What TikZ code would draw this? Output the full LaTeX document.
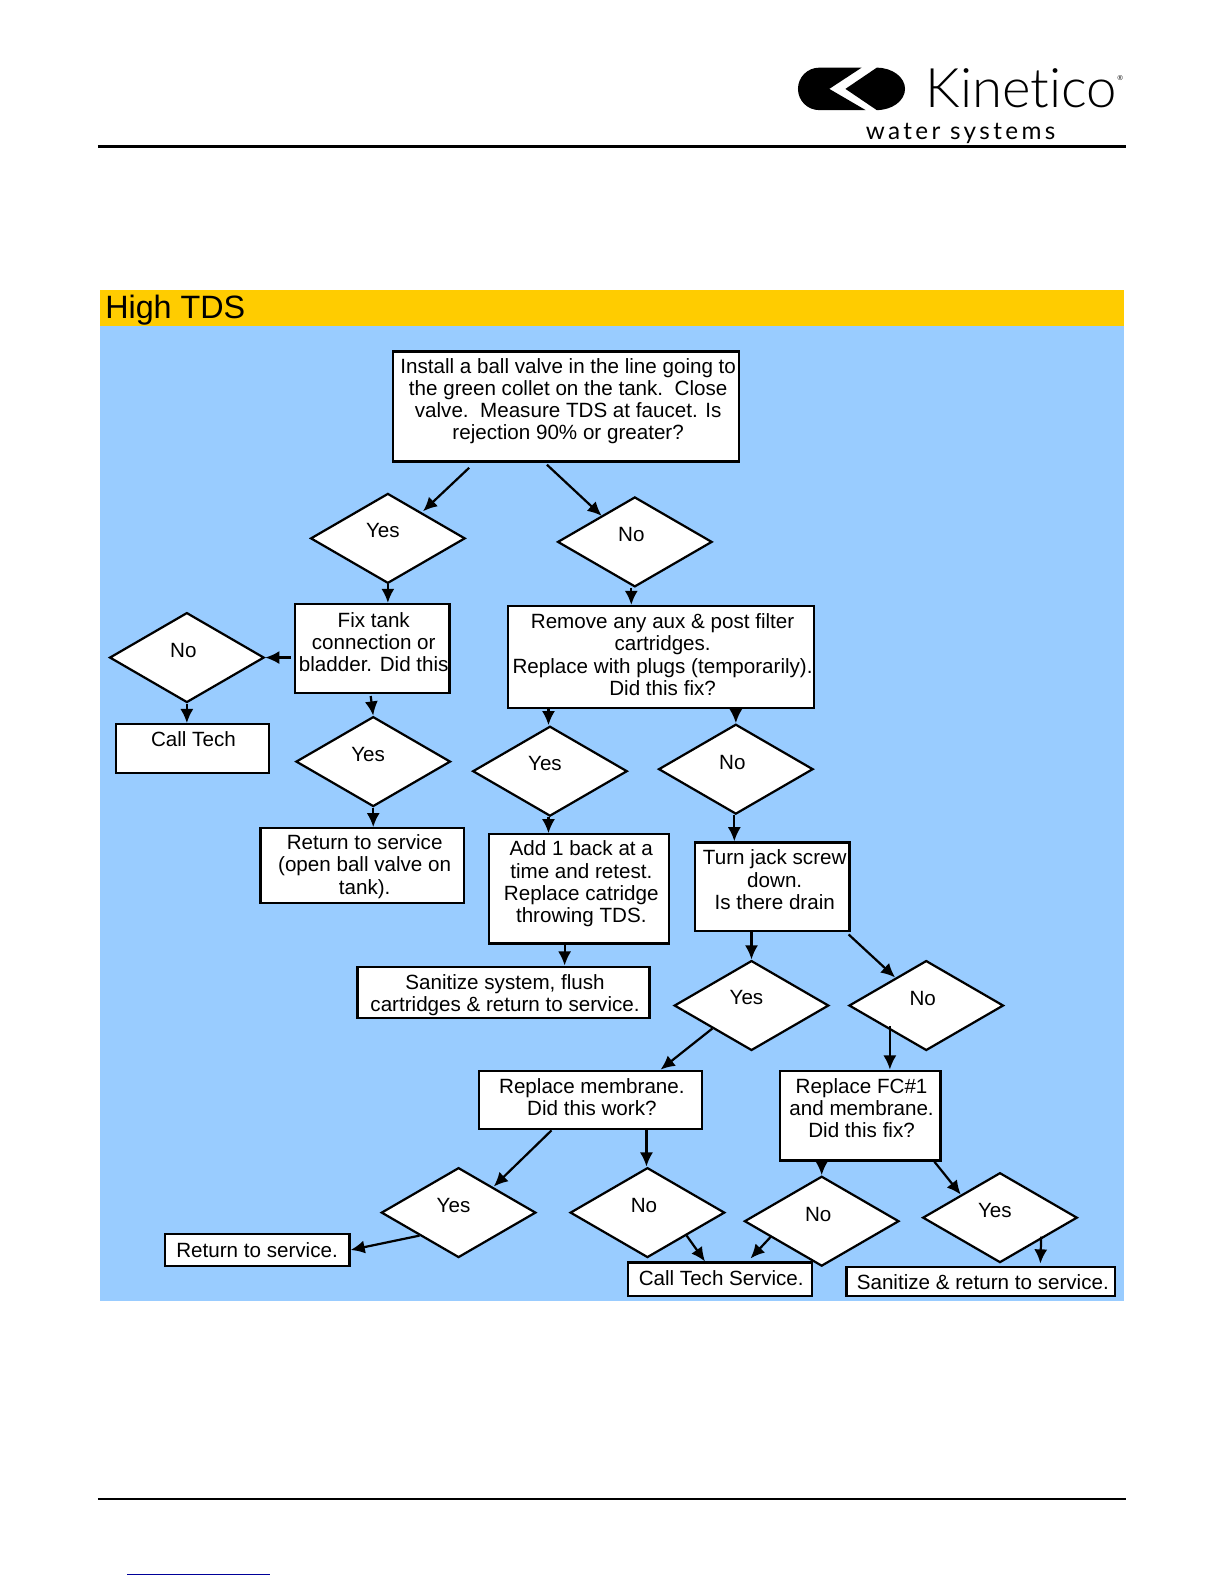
\documentclass[tikz,border=0pt]{standalone}
\usepackage{fontspec}
\setmainfont{Liberation Sans}
\newfontfamily\logofont[Ligatures=NoCommon]{Lato Light}
\newfontfamily\logospaced[LetterSpace=14]{Lato}
\usetikzlibrary{arrows.meta,shapes.geometric}
\definecolor{barcol}{HTML}{FFCC00}
\definecolor{bgcol}{HTML}{99CCFF}
\definecolor{linkcol}{HTML}{000099}
\begin{document}
\begin{tikzpicture}[
    x = 1pt, y = -1pt,
    every node/.style = {font = \fontsize{20.4}{22}\selectfont},
    txt/.style = {align = center, inner sep = 0pt},
    ytxt/.style = {txt, xshift = -5pt, yshift = 7.5pt},
    ntxt/.style = {txt, xshift = -3.5pt, yshift = 7pt},
    box/.style = {draw, fill = white, line width = 2.2pt, inner sep = 0pt},
    dia/.style = {diamond, draw, fill = white, line width = 2.2pt, inner sep = 0pt,
      minimum width = 153pt, minimum height = 89pt},
    arr/.style = {-{Latex[length = 14pt, width = 13pt]}, line width = 2.2pt},
  ]
  \useasboundingbox (0,0) rectangle (1211.9,1568.2);
  \fill[bgcol] (99,323) rectangle (1113,1288);
  \node[fill = barcol, minimum width = 1014pt, minimum height = 36pt, inner sep = 0pt] (bar) at (606,305) {};
  \node[anchor = west, inner sep = 0pt, font = \fontsize{32}{34}\selectfont] (title) at (104,307.5) {High TDS};

  % logo
  \fill (811,67) -- (853,67) -- (821,88) -- (857,109) -- (811,109) arc (90:270:21) -- cycle;
  \fill (837,88) -- (868,67) arc (270:450:28 and 21) -- cycle;
  \node[anchor = west, inner sep = 0pt, font = \logofont\fontsize{54}{55}\selectfont] (brand) at (916,87) {Kinetico};
  \node[inner sep = 0pt, font = \fontsize{7}{8}\selectfont] (reg) at (1109,77) {®};
  \node[anchor = west, inner sep = 0pt, font = \logospaced\fontsize{24}{25}\selectfont] (sub) at (857,132) {water systems};
  \coordinate (headl) at (97,145);
  \coordinate (headr) at (1115,145);
  \coordinate (footl) at (97,1484);
  \coordinate (footr) at (1115,1484);
  \coordinate (linkl) at (126,1559);
  \coordinate (linkr) at (267,1559);
  \draw[line width = 2.5pt] (headl) -- (headr);
  \draw[line width = 1.8pt] (footl) -- (footr);
  \draw[linkcol, line width = 1pt] (linkl) -- (linkr);

  % boxes
  \node[box, minimum width = 343pt, minimum height = 109pt, label = {[txt, xshift = 2pt, yshift = 5.5pt]center:{Install a ball valve in the line going to\\the green collet on the tank.\ \ Close\\valve.\ \ Measure TDS at faucet. Is\\rejection 90\% or greater?}}] (top) at (560.5,402.5) {};
  \node[box, minimum width = 153pt, minimum height = 88pt, label = {[txt, xshift = 1.5pt, yshift = 6.5pt]center:{Fix tank\\connection or\\bladder. Did this}}] (fix) at (368.5,642) {};
  \node[box, minimum width = 303pt, minimum height = 101pt, label = {[txt, xshift = 1.5pt, yshift = 2.5pt]center:{Remove any aux \& post filter\\cartridges.\\Replace with plugs (temporarily).\\Did this fix?}}] (remove) at (654.5,650.5) {};
  \node[box, minimum width = 151pt, minimum height = 48pt, label = {[txt, xshift = 1pt, yshift = 9pt]center:Call Tech}] (calltech) at (190.5,741) {};
  \node[box, minimum width = 201pt, minimum height = 74pt, label = {[txt, xshift = 2.5pt, yshift = -1pt]center:{Return to service\\(open ball valve on\\tank).}}] (ret) at (358.5,857) {};
  \node[box, minimum width = 178pt, minimum height = 108pt, label = {[txt, xshift = 2.5pt, yshift = 5pt]center:{Add 1 back at a\\time and retest.\\Replace catridge\\throwing TDS.}}] (add) at (573,880) {};
  \node[box, minimum width = 153pt, minimum height = 88pt, label = {[txt, xshift = 2.5pt, yshift = 7pt]center:{Turn jack screw\\down.\\Is there drain}}] (turn) at (764.5,878) {};
  \node[box, minimum width = 289pt, minimum height = 51pt, label = {[txt, xshift = 1.5pt, yshift = -2.5pt]center:{Sanitize system, flush\\cartridges \& return to service.}}] (sanitize) at (498.5,982.5) {};
  \node[box, minimum width = 221pt, minimum height = 58pt, label = {[txt, xshift = 1.5pt, yshift = 3pt]center:{Replace membrane.\\Did this work?}}] (replm) at (584.5,1089) {};
  \node[box, minimum width = 159pt, minimum height = 89pt, label = {[txt, xshift = 1.5pt, yshift = 7.5pt]center:{Replace FC\#1\\and membrane.\\Did this fix?}}] (replfc) at (851.5,1104.5) {};
  \node[box, minimum width = 183pt, minimum height = 31pt, label = {[txt]center:Return to service.}] (retsvc) at (254.5,1237.5) {};
  \node[box, minimum width = 182pt, minimum height = 33pt, label = {[txt, xshift = 1pt, yshift = 1.5pt]center:Call Tech Service.}] (calltechs) at (713,1266.5) {};
  \node[box, minimum width = 266pt, minimum height = 29pt, label = {[txt, xshift = 2pt, yshift = -0.5pt]center:Sanitize \& return to service.}] (sanret) at (971,1268.5) {};

  % diamonds
  \node[dia, label = {[ytxt]center:Yes}] (yes1) at (384,533) {};
  \node[dia, label = {[ntxt]center:No}] (no1) at (628.5,536.5) {};
  \node[dia, label = {[ntxt]center:No}] (no2) at (185,651) {};
  \node[dia, label = {[ytxt]center:Yes}] (yes2) at (369.5,754) {};
  \node[dia, label = {[ytxt]center:Yes}] (yes3) at (544.5,763.5) {};
  \node[dia, label = {[ntxt]center:No}] (no3) at (728.5,761.5) {};
  \node[dia, label = {[ytxt]center:Yes}] (yes4) at (744,995.5) {};
  \node[dia, label = {[ntxt]center:No}] (no4) at (917,995.5) {};
  \node[dia, label = {[ytxt]center:Yes}] (yes5) at (454,1200.5) {};
  \node[dia, label = {[ntxt]center:No}] (no5) at (641,1200.5) {};
  \node[dia, label = {[ntxt]center:No}] (no6) at (813.5,1209) {};
  \node[dia, label = {[ytxt]center:Yes}] (yes6) at (990,1205.5) {};

  % connectors
  \draw[arr] ([shift = {(-96,5)}]top.south) -- ([shift = {(-4,-4)}]yes1.north east);
  \draw[arr] ([shift = {(-19,2)}]top.south) -- ([shift = {(6,-3)}]no1.north west);
  \draw[arr] (yes1.south) -- (yes1.south |- fix.north);
  \draw[arr] ([xshift = -3.5pt]no1.south) -- ([xshift = -3.5pt]no1.south |- remove.north);
  \draw[arr] ([xshift = -3pt]no2.east -| fix.west) -- (no2.east);
  \draw[arr] (no2.south) -- (no2.south |- calltech.north);
  \draw[arr] ([shift = {(-1.5,2)}]fix.south) -- (yes2.north);
  \draw[arr] (yes2.south) -- (yes2.south |- ret.north);
  \draw[arr] ([xshift = -1.5pt]yes3.north |- remove.south) -- ([xshift = -1.5pt]yes3.north);
  \draw[arr] (no3.north |- remove.south) -- (no3.north);
  \draw[arr] ([xshift = -1.5pt]yes3.south) -- ([xshift = -1.5pt]yes3.south |- add.north);
  \draw[arr] ([xshift = -1.5pt]no3.south) -- ([xshift = -1.5pt]no3.south |- turn.north);
  \draw[arr] ([xshift = -14pt]add.south) -- ([xshift = -14pt]add.south |- sanitize.north);
  \draw[arr] (yes4.north |- turn.south) -- (yes4.north);
  \draw[arr] ([shift = {(-2,2)}]turn.south east) -- ([shift = {(8,-5)}]no4.north west);
  \draw[arr] (yes4.south west) -- ([shift = {(69.5,0)}]replm.north);
  \draw[arr] ([xshift = -36pt, yshift = 25pt]no4.south) -- ([xshift = -36pt]no4.south |- replfc.north);
  \draw[arr] ([xshift = -38.5pt]replm.south) -- ([shift = {(-4,-3)}]yes5.north east);
  \draw[arr] ([xshift = 55.5pt]replm.south) -- ([xshift = 55.5pt]replm.south |- no5.north);
  \draw[arr] (no6.north |- replfc.south) -- (no6.north);
  \draw[arr] ([xshift = -7pt]replfc.south east) -- (yes6.north west);
  \draw[arr] (yes5.south west) -- (retsvc.east);
  \draw[arr] (no5.south east) -- ([shift = {(-15,0)}]calltechs.north);
  \draw[arr] ([shift = {(-11,-8)}]no6.south west) -- ([shift = {(30,-3)}]calltechs.north);
  \draw[arr] ([shift = {(2,-4)}]yes6.south east) -- ([shift = {(59,-2)}]sanret.north);
\end{tikzpicture}
\end{document}
